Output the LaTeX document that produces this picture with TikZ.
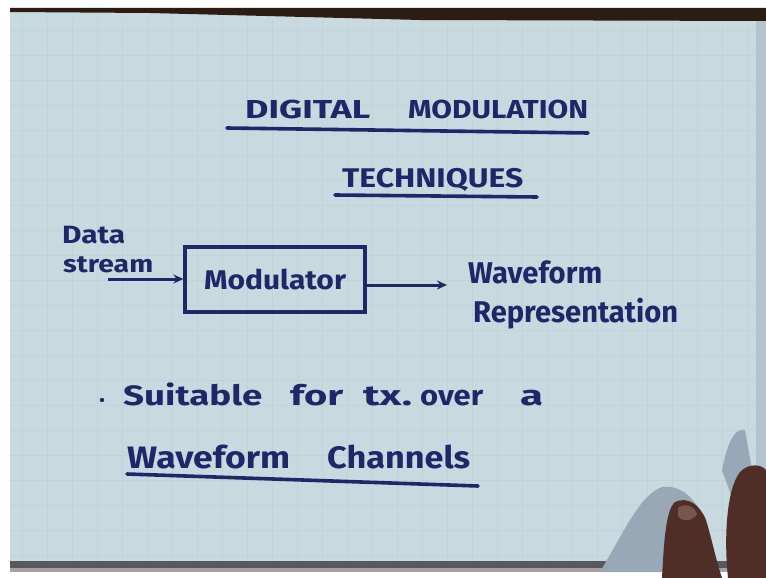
\documentclass[tikz,border=0pt]{standalone}
\usepackage{fontspec}
\setmainfont{Fira Sans}
\usetikzlibrary{arrows.meta}

\definecolor{paper}{RGB}{200,217,223}
\definecolor{gridline}{RGB}{193,210,217}
\definecolor{ink}{RGB}{30,40,104}
\definecolor{edgetop}{RGB}{45,28,20}
\definecolor{edgebottom}{RGB}{88,88,96}
\definecolor{desk}{RGB}{168,160,160}
\definecolor{skin}{RGB}{78,46,38}
\definecolor{skinlight}{RGB}{120,86,80}
\definecolor{shadow}{RGB}{152,168,182}
\definecolor{sideshade}{RGB}{178,196,204}

% a word at a given font size, stretched sideways to a given width (pt)
\newcommand{\hw}[3]{\resizebox{#2pt}{\height}{\fontsize{#1}{#1}\selectfont\bfseries #3}}

\tikzset{
  word/.style={inner sep=0pt, anchor=base west, text=ink},
  inkline/.style={draw=ink, line width=3.6pt, line cap=round},
  flow/.style={draw=ink, line width=3pt, -{Stealth[length=10pt,width=9pt]}},
  block/.style={draw=ink, line width=3.2pt, minimum width=180pt, minimum height=65pt, inner sep=0pt, text=ink}
}

\begin{document}
\begin{tikzpicture}[x=1pt, y=-1pt]
  \useasboundingbox (0,0) rectangle (766,578);
  \fill[white] (0,0) rectangle (766,578);

  % sheet of squared paper
  \fill[paper] (10,10) rectangle (766,568);
  \begin{scope}
    \clip (10,20) rectangle (762,560);
    \foreach \gx in {22,47,...,766} \draw[gridline, line width=0.5pt] (\gx,10) -- (\gx,568);
    \foreach \gy in {30,55,...,568} \draw[gridline, line width=0.5pt] (10,\gy) -- (766,\gy);
  \end{scope}
  % shaded fold at the right edge of the sheet
  \fill[sideshade] (756,20) rectangle (766,561);
  % dark edges above and below the sheet
  \fill[edgetop] (10,8) -- (766,8) -- (766,21) -- (420,20) -- (150,13) -- (10,12) -- cycle;
  \fill[edgebottom] (10,561) rectangle (766,568);
  \fill[desk] (10,568) rectangle (766,572);

  % title
  \node[word] (t1) at (245,118) {\hw{26}{125}{DIGITAL}};
  \node[word] (t2) at (408,118) {\hw{26}{180}{MODULATION}};
  \draw[inkline] (227,128) -- (588,133);
  \node[word] (t3) at (342,187) {\hw{27}{181}{TECHNIQUES}};
  \draw[inkline] (335,195) -- (537,197);

  % block diagram
  \node[word] (in1) at (62,243) {\hw{25}{63}{Data}};
  \node[word] (in2) at (63,272) {\hw{24}{90}{stream}};
  \node[block] (mod) at (275,279.5) {\hw{27}{142}{Modulator}};
  \coordinate (src) at (108,279);
  \coordinate (dst) at (447,285);
  \draw[flow] (src) -- (mod.west |- src);
  \draw[flow] (mod.east |- dst) -- (dst);
  \node[word] (out1) at (468,283) {\hw{30}{134}{Waveform}};
  \node[word] (out2) at (473,322) {\hw{30}{205}{Representation}};

  % remark
  \fill[ink] (102,400) circle (2.2pt);
  \node[word] (r1) at (123,405) {\hw{28}{139}{Suitable}};
  \node[word] (r2) at (290,405) {\hw{28}{53}{for}};
  \node[word] (r3) at (363,405) {\hw{28}{49}{tx.}};
  \node[word] (r4) at (420,405) {\hw{28}{63}{over}};
  \node[word] (r5) at (520,405) {\hw{28}{23}{a}};
  \node[word] (r6) at (127,468) {\hw{31}{163}{Waveform}};
  \node[word] (r7) at (327,468) {\hw{31}{143}{Channels}};
  \draw[inkline] (127,474) -- (478,486);

  % fingers holding the sheet
  \fill[shadow] (600,572) .. controls (625,530) and (640,495) .. (662,487)
    .. controls (680,485) and (690,495) .. (700,510) -- (700,572) -- cycle;
  \fill[shadow] (722,470) .. controls (728,440) and (735,428) .. (745,430)
    -- (752,470) -- (740,520) -- cycle;
  \fill[skin] (662,578) .. controls (664,540) and (666,510) .. (675,502)
    .. controls (688,496) and (700,505) .. (706,520)
    .. controls (712,540) and (716,560) .. (722,578) -- cycle;
  \fill[skinlight] (678,508) .. controls (684,503) and (694,505) .. (697,514)
    .. controls (692,522) and (682,522) .. (678,516) -- cycle;
  \fill[skin] (728,578) .. controls (724,540) and (726,490) .. (740,472)
    .. controls (750,462) and (762,465) .. (766,470) -- (766,578) -- cycle;
\end{tikzpicture}
\end{document}
